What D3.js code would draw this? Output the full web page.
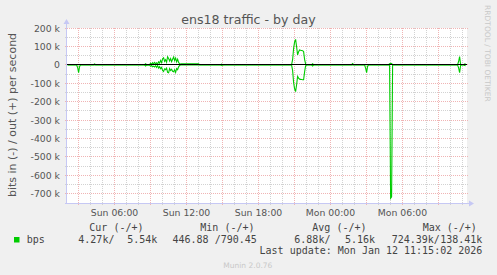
<!DOCTYPE html>
<html>
<head>
<meta charset="utf-8">
<script src="https://cdn.jsdelivr.net/npm/d3@7/dist/d3.min.js"></script>
<style>
  html, body { margin: 0; padding: 0; background: #f0f0f0; }
  svg { display: block; }
  text { font-family: "DejaVu Sans", sans-serif; }
  .mono { font-family: "DejaVu Sans Mono", monospace; white-space: pre; }
</style>
</head>
<body>
<svg id="chart" width="497" height="275"></svg>
<script>
// ---------------- data ----------------
const title = "ens18 traffic - by day";
const yAxisTitle = "bits in (-) / out (+) per second";
const timeDomain = ["2026-01-11 02:02", "2026-01-12 11:22"];

const sampleTimes = [
  "2026-01-11 02:05","2026-01-11 02:50","2026-01-11 02:55","2026-01-11 03:00","2026-01-11 03:05","2026-01-11 03:10",
  "2026-01-11 04:15","2026-01-11 04:20","2026-01-11 04:25",
  "2026-01-11 08:30","2026-01-11 08:35","2026-01-11 08:40",
  "2026-01-11 08:55","2026-01-11 09:00","2026-01-11 09:05","2026-01-11 09:10","2026-01-11 09:15","2026-01-11 09:20",
  "2026-01-11 09:25","2026-01-11 09:30","2026-01-11 09:35","2026-01-11 09:40","2026-01-11 09:45","2026-01-11 09:50",
  "2026-01-11 09:55","2026-01-11 10:00","2026-01-11 10:05","2026-01-11 10:10","2026-01-11 10:15","2026-01-11 10:20",
  "2026-01-11 10:25","2026-01-11 10:30","2026-01-11 10:35","2026-01-11 10:40","2026-01-11 10:45","2026-01-11 10:50",
  "2026-01-11 10:55","2026-01-11 11:00","2026-01-11 11:05","2026-01-11 11:10","2026-01-11 11:15","2026-01-11 11:20",
  "2026-01-11 11:25","2026-01-11 11:30","2026-01-11 13:00","2026-01-11 13:05",
  "2026-01-11 14:50","2026-01-11 14:55","2026-01-11 15:00","2026-01-11 15:05",
  "2026-01-11 20:45","2026-01-11 20:50","2026-01-11 20:55","2026-01-11 21:00","2026-01-11 21:05","2026-01-11 21:10",
  "2026-01-11 21:15","2026-01-11 21:20","2026-01-11 21:25","2026-01-11 21:30","2026-01-11 21:35","2026-01-11 21:40",
  "2026-01-11 21:45","2026-01-11 21:50","2026-01-11 21:55","2026-01-11 22:00",
  "2026-01-11 22:25","2026-01-11 22:30","2026-01-11 22:35",
  "2026-01-12 01:45","2026-01-12 01:50","2026-01-12 01:55",
  "2026-01-12 02:50","2026-01-12 02:55","2026-01-12 03:00","2026-01-12 03:05","2026-01-12 03:10",
  "2026-01-12 04:50","2026-01-12 04:55","2026-01-12 05:00","2026-01-12 05:05","2026-01-12 05:10",
  "2026-01-12 10:35","2026-01-12 10:40","2026-01-12 10:45","2026-01-12 10:50","2026-01-12 10:55",
  "2026-01-12 11:05","2026-01-12 11:10","2026-01-12 11:15"
];
// outgoing bits/s (plotted positive)
const outBps = [
  1000,1000,1000,1500,1000,1000,
  1000,4500,1000,
  1000,6000,1000,
  2000,9000,3000,12000,5000,13000,
  6000,11000,5000,16000,9000,24000,
  12000,33000,38000,19000,28000,14000,
  44000,35000,21000,34000,17000,30000,
  42000,23000,37000,16000,31000,13000,
  6000,5000,5000,1000,
  1000,4000,1000,1000,
  1000,28000,88000,124000,138410,98000,
  54000,71000,81000,79000,78000,77000,
  72000,30000,5000,1000,
  1000,6000,1000,
  1000,7000,1000,
  1000,1000,1000,1000,1000,
  1000,6000,8000,7000,1000,
  1000,18000,45000,3000,1000,
  1000,4000,5540
];
// incoming bits/s (plotted negative)
const inBps = [
  1000,1000,14000,42000,9000,1000,
  1000,1200,1000,
  1000,6000,1000,
  2000,8000,4000,10000,7000,12000,
  5000,14000,4000,18000,10000,21000,
  14000,30000,36000,22000,26000,18000,
  41000,43000,20000,31000,24000,35000,
  38000,27000,41000,20000,26000,11000,
  3000,1000,1000,1000,
  1000,3500,2500,1000,
  1000,30000,95000,130000,145000,108000,
  63000,72000,78000,79000,80000,81000,
  81000,38000,5000,1000,
  1000,6000,1000,
  1000,1000,1000,
  1000,18000,42000,8000,1000,
  1000,2000,724390,716000,1000,
  1000,16000,43000,3000,1000,
  1000,4000,4270
];

const yDomain = [-750000, 200000];
const yTickValues = [-700000,-600000,-500000,-400000,-300000,-200000,-100000,0,100000,200000];
const yTickLabels = ["-700 k","-600 k","-500 k","-400 k","-300 k","-200 k","-100 k","0","100 k","200 k"];

const legendHeaders = ["Cur (-/+)", "Min (-/+)", "Avg (-/+)", "Max (-/+)"];
const legendSeries = "bps";
const legendIn  = ["4.27k/", "446.88 /", "6.88k/", "724.39k/"];
const legendOut = ["5.54k", "790.45", "5.16k", "138.41k"];
const lastUpdate = "Last update: Mon Jan 12 11:15:02 2026";
const footer = "Munin 2.0.76";
const watermark = "RRDTOOL / TOBI OETIKER";

// ---------------- layout ----------------
const plot = {left: 67, right: 467, top: 28, bottom: 203};
const green = "#00cc00";

const svg = d3.select("#chart");
svg.append("rect").attr("width", 497).attr("height", 275).attr("fill", "#f0f0f0");

const parse = d3.timeParse("%Y-%m-%d %H:%M");
const x = d3.scaleTime().domain(timeDomain.map(parse)).range([plot.left, plot.right]);
const y = d3.scaleLinear().domain(yDomain).range([plot.bottom, plot.top]);
const px = v => Math.floor(v) + 0.5;

// plot background
svg.append("rect")
  .attr("x", plot.left).attr("y", plot.top)
  .attr("width", plot.right - plot.left).attr("height", plot.bottom - plot.top)
  .attr("fill", "#ffffff");

const grid = svg.append("g").attr("shape-rendering", "crispEdges");
const minorCol = "#d2d2d2", majorCol = "#f0b4b4";

// horizontal grid
const yMinor = d3.range(yDomain[0] + 50000, yDomain[1] + 1, 50000).filter(v => v % 100000 !== 0);
grid.selectAll(".hmin").data(yMinor).join("line")
  .attr("x1", plot.left - 2).attr("x2", plot.right + 2)
  .attr("y1", d => px(y(d))).attr("y2", d => px(y(d)))
  .attr("stroke", minorCol).attr("stroke-dasharray", "1,1");
grid.selectAll(".hmaj").data(yTickValues).join("line")
  .attr("x1", plot.left - 2).attr("x2", plot.right + 2)
  .attr("y1", d => px(y(d))).attr("y2", d => px(y(d)))
  .attr("stroke", majorCol).attr("stroke-dasharray", "1,1");

// vertical grid
const hourTicks = x.ticks(d3.timeHour.every(1));
const minorHours = hourTicks.filter(d => d.getHours() % 3 !== 0);
const majorHours = hourTicks.filter(d => d.getHours() % 3 === 0);
grid.selectAll(".vmin").data(minorHours).join("line")
  .attr("x1", d => px(x(d))).attr("x2", d => px(x(d)))
  .attr("y1", plot.top).attr("y2", plot.bottom + 3)
  .attr("stroke", minorCol).attr("stroke-dasharray", "1,1");
grid.selectAll(".vmaj").data(majorHours).join("line")
  .attr("x1", d => px(x(d))).attr("x2", d => px(x(d)))
  .attr("y1", plot.top).attr("y2", plot.bottom + 3)
  .attr("stroke", majorCol).attr("stroke-dasharray", "1,1");

// data
const pts = sampleTimes.map((t, i) => ({t: parse(t), out: outBps[i], inn: inBps[i]}));
const lineOut = d3.line().x(d => x(d.t)).y(d => y(d.out));
const lineIn = d3.line().x(d => x(d.t)).y(d => y(-d.inn));
svg.append("path").datum(pts).attr("d", lineIn).attr("fill", "none").attr("stroke", green).attr("stroke-width", 1.1);
svg.append("path").datum(pts).attr("d", lineOut).attr("fill", "none").attr("stroke", green).attr("stroke-width", 1.1);

// zero line
svg.append("line").attr("shape-rendering", "crispEdges")
  .attr("x1", plot.left).attr("x2", plot.right)
  .attr("y1", px(y(0))).attr("y2", px(y(0)))
  .attr("stroke", "#000").attr("stroke-width", 1);

// axes
const axisCol = "#c6c8f4";
const ax = svg.append("g").attr("shape-rendering", "crispEdges");
ax.append("line").attr("x1", plot.left - 0.5).attr("x2", plot.left - 0.5)
  .attr("y1", plot.bottom + 1).attr("y2", plot.top - 5).attr("stroke", axisCol);
ax.append("line").attr("x1", plot.left - 2).attr("x2", plot.right + 3)
  .attr("y1", plot.bottom + 0.5).attr("y2", plot.bottom + 0.5).attr("stroke", axisCol);
svg.append("path")
  .attr("d", `M${plot.left - 3.5},${plot.top - 4} L${plot.left - 0.5},${plot.top - 9} L${plot.left + 2.5},${plot.top - 4} Z`)
  .attr("fill", axisCol);
svg.append("path")
  .attr("d", `M${plot.right + 2},${plot.bottom - 2.5} L${plot.right + 7},${plot.bottom + 0.5} L${plot.right + 2},${plot.bottom + 3.5} Z`)
  .attr("fill", axisCol);

// y tick labels
svg.append("g").selectAll("text").data(yTickValues).join("text")
  .attr("x", 60).attr("y", d => px(y(d)) + 3.6)
  .attr("text-anchor", "end").attr("font-size", "9.3px").attr("fill", "#555")
  .text((d, i) => yTickLabels[i]);

// x tick labels
const labelHours = hourTicks.filter(d => d.getHours() % 6 === 0);
const fmt = d3.timeFormat("%a %H:%M");
svg.append("g").selectAll("text").data(labelHours).join("text")
  .attr("x", d => px(x(d))).attr("y", 215.5)
  .attr("text-anchor", "middle").attr("font-size", "9.3px").attr("fill", "#555")
  .text(d => fmt(d));

// title
svg.append("text").attr("x", 248.5).attr("y", 23.5).attr("text-anchor", "middle")
  .attr("font-size", "12.6px").attr("fill", "#555").text(title);

// y axis title
svg.append("text").attr("transform", "translate(15.5,115) rotate(-90)")
  .attr("text-anchor", "middle").attr("font-size", "11px").attr("fill", "#555").text(yAxisTitle);

// watermark
svg.append("text").attr("transform", "translate(485.3,53.4) rotate(90)")
  .attr("text-anchor", "middle").attr("font-size", "7.5px").attr("fill", "#c8c8c8").text(watermark);

// legend
const headerX = [89.3, 200.3, 312.3, 422.7];
const inX = [78.3, 172.5, 294.3, 391.7];
const outX = [157.3, 256.8, 375, 482.3];
const lg = svg.append("g").attr("font-size", "10px").attr("fill", "#444");
lg.selectAll(".hdr").data(legendHeaders).join("text").attr("class", "mono")
  .attr("x", (d, i) => headerX[i]).attr("y", 230.5).text(d => d);
lg.append("rect").attr("x", 14).attr("y", 237).attr("width", 5.5).attr("height", 5.5).attr("fill", green);
lg.append("text").attr("class", "mono").attr("x", 26.7).attr("y", 242.5).text(legendSeries);
lg.selectAll(".vin").data(legendIn).join("text").attr("class", "mono")
  .attr("x", (d, i) => inX[i]).attr("y", 242.5).text(d => d);
lg.selectAll(".vout").data(legendOut).join("text").attr("class", "mono")
  .attr("x", (d, i) => outX[i]).attr("y", 242.5).attr("text-anchor", "end").text(d => d);
lg.append("text").attr("class", "mono").attr("x", 482.3).attr("y", 254.3)
  .attr("text-anchor", "end").text(lastUpdate);

// footer
svg.append("text").attr("x", 223.3).attr("y", 267.5).attr("font-size", "7.5px")
  .attr("fill", "#c8c8c8").text(footer);
</script>
</body>
</html>
